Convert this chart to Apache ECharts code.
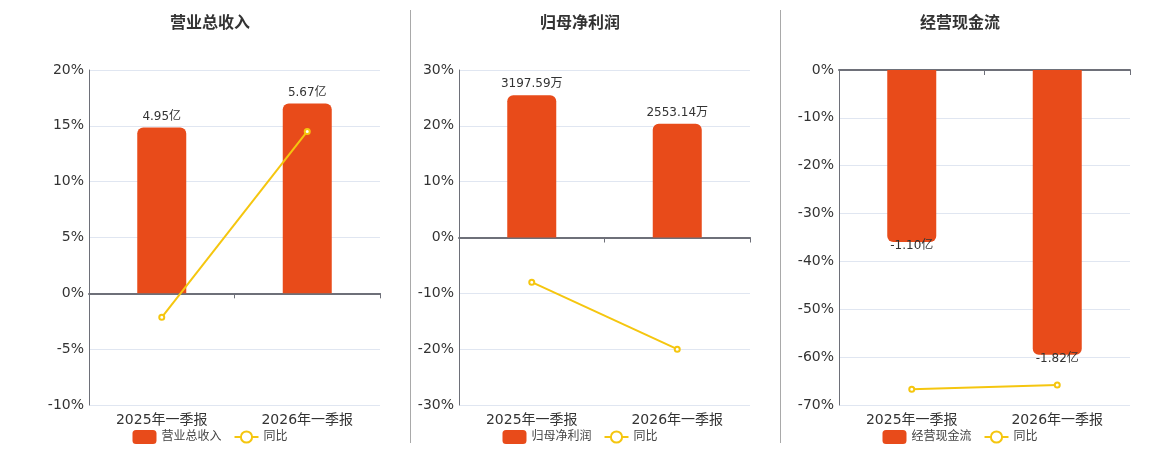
<!DOCTYPE html>
<html>
<head>
<meta charset="utf-8">
<script src="https://cdn.jsdelivr.net/npm/echarts@6/dist/echarts.min.js"></script>
<style>
  body { margin: 0; background: #fff; }
  #wrap { position: relative; width: 1160px; height: 450px; }
  .panel { position: absolute; top: 0; width: 370px; height: 450px; }
  .sep { position: absolute; top: 10px; width: 1px; height: 433px; background: #a9a9a9; }
</style>
</head>
<body>
<div id="wrap">
  <div class="panel" id="p1" style="left:25px"></div>
  <div class="sep" style="left:410px"></div>
  <div class="panel" id="p2" style="left:395px"></div>
  <div class="sep" style="left:780px"></div>
  <div class="panel" id="p3" style="left:775px"></div>
</div>
<script>
// 数据
var categories = ['2025年一季报', '2026年一季报'];

var revenue = [4.95, 5.67];          // 亿
var revenueYoy = [-2.15, 14.5];      // %
var revenueTicks = [-10, 20, 5];     // min, max, interval

var netProfit = [3197.59, 2553.14];  // 万
var netProfitYoy = [-8.0, -20.0];
var netProfitTicks = [-30, 30, 10];

var cashFlow = [-1.10, -1.82];       // 亿
var cashFlowYoy = [-66.7, -65.8];
var cashFlowTicks = [-70, 0, 10];

var FONT = '"DejaVu Sans", "Noto Sans CJK SC", sans-serif';
var BAR = '#e84b1a';
var LINE = '#f5c60f';

function makePanel(id, title, name, bars, unit, yoy, ticks, labelPos) {
    var chart = echarts.init(document.getElementById(id));
    // 柱子用隐藏轴，最大柱高约占轴范围的 85%
    var maxAbs = Math.max.apply(null, bars.map(Math.abs));
    var axisAbs = Math.max(Math.abs(ticks[0]), Math.abs(ticks[1]));
    var scale = maxAbs / (0.85 * axisAbs);
    chart.setOption({
        textStyle: { fontFamily: FONT },
        title: {
            text: title,
            left: 'center',
            top: 11,
            textStyle: { fontSize: 16, fontWeight: 'bold', color: '#333', fontFamily: FONT }
        },
        legend: {
            bottom: 1,
            left: 'center',
            itemWidth: 24,
            itemHeight: 14,
            itemGap: 12,
            textStyle: { fontSize: 12, color: '#444', fontFamily: FONT },
            data: [
                { name: name, icon: 'roundRect' },
                { name: '同比' }
            ]
        },
        grid: { left: 64, right: 15, top: 70, bottom: 45 },
        xAxis: {
            type: 'category',
            data: categories,
            axisLine: { onZeroAxisIndex: 0, lineStyle: { color: '#6e7079', width: 2 } },
            axisTick: { show: true, length: 5, lineStyle: { color: '#6e7079' } },
            axisLabel: { fontSize: 14, color: '#333', margin: 8, fontFamily: FONT }
        },
        yAxis: [
            {
                type: 'value',
                min: ticks[0],
                max: ticks[1],
                interval: ticks[2],
                axisLine: { show: true, lineStyle: { color: '#6e7079' } },
                axisLabel: { fontSize: 14, color: '#333', margin: 5, formatter: '{value}%', fontFamily: FONT },
                splitLine: { lineStyle: { color: '#e0e6f1' } }
            },
            {
                type: 'value',
                show: false,
                min: ticks[0] * scale,
                max: ticks[1] * scale,
                splitLine: { show: false }
            }
        ],
        series: [
            {
                name: name,
                type: 'bar',
                yAxisIndex: 1,
                barWidth: 49,
                data: bars,
                itemStyle: {
                    color: BAR,
                    borderRadius: labelPos === 'bottom' ? [0, 0, 6, 6] : [6, 6, 0, 0]
                },
                label: {
                    show: true,
                    position: labelPos,
                    distance: labelPos === 'bottom' ? -2 : 5,
                    fontSize: 12,
                    color: '#333',
                    fontFamily: FONT,
                    formatter: function (p) { return p.value.toFixed(2) + unit; }
                }
            },
            {
                name: '同比',
                type: 'line',
                yAxisIndex: 0,
                data: yoy,
                symbol: 'emptyCircle',
                symbolSize: 5,
                lineStyle: { color: LINE, width: 2 },
                itemStyle: { color: LINE }
            }
        ]
    });
}

makePanel('p1', '营业总收入', '营业总收入', revenue, '亿', revenueYoy, revenueTicks, 'top');
makePanel('p2', '归母净利润', '归母净利润', netProfit, '万', netProfitYoy, netProfitTicks, 'top');
makePanel('p3', '经营现金流', '经营现金流', cashFlow, '亿', cashFlowYoy, cashFlowTicks, 'bottom');
</script>
</body>
</html>
